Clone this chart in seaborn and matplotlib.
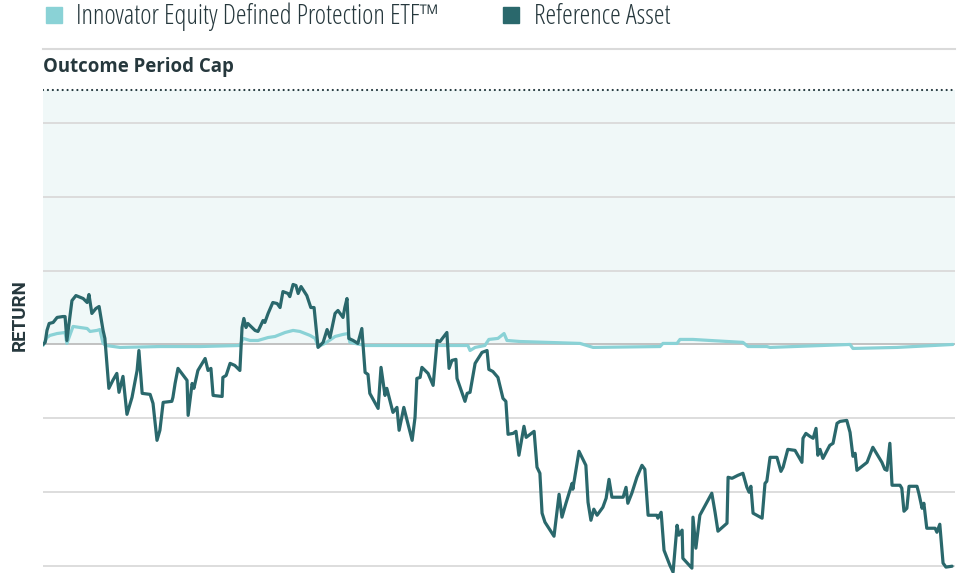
import numpy as np
import pandas as pd
import matplotlib.pyplot as plt
import seaborn as sns
from matplotlib.lines import Line2D

# trading day / return (%)
ref_day = [0, 0.6, 1.1, 1.7, 2.8, 3.9, 5.5, 6.1, 6.6, 8.0, 9.1, 11.1, 12.2, 12.7, 13.5, 14.6, 15.5, 16.6, 17.1,
           18.2, 19.3, 20.4, 21.0, 22.1, 23.2, 24.6, 26.0, 26.5, 27.4, 29.6, 30.4, 31.5, 32.3, 33.2, 35.6, 35.9,
           36.5, 37.3, 39.8, 40.1, 41.2, 41.7, 42.8, 44.8, 45.6, 46.4, 47.0, 49.5, 49.7, 50.6, 51.7, 53.0, 54.4,
           55.0, 55.5, 56.1, 56.6, 58.6, 59.4, 60.8, 61.3, 62.2, 63.5, 64.7, 65.5, 66.3, 67.7, 68.2, 69.1, 69.9,
           70.5, 71.3, 72.9, 74.0, 74.9, 76.0, 77.4, 78.5, 79.3, 80.7, 81.5, 82.9, 83.4, 84.0, 84.5, 85.7, 87.0,
           88.1, 89.0, 89.8, 90.3, 92.6, 93.4, 94.5, 95.0, 96.7, 97.8, 98.4, 99.7, 102.0, 102.8, 103.3, 104.2,
           104.7, 106.4, 107.8, 108.9, 109.7, 111.6, 112.2, 113.0, 114.1, 114.4, 116.6, 117.2, 118.0, 119.4,
           121.3, 122.7, 123.2, 124.3, 125.7, 127.1, 127.9, 128.5, 129.9, 130.7, 131.5, 132.9, 133.5, 135.7,
           136.5, 137.3, 137.9, 138.7, 141.2, 142.6, 143.4, 144.5, 146.2, 146.4, 148.1, 150.0, 150.6, 151.4,
           152.2, 153.1, 154.7, 155.6, 156.4, 157.2, 160.3, 161.1, 161.6, 162.7, 164.1, 165.5, 166.3, 167.2,
           169.6, 169.9, 170.8, 171.6, 173.2, 174.1, 175.2, 175.7, 176.6, 176.8, 179.3, 179.6, 180.4, 181.5,
           184.8, 185.7, 186.5, 189.0, 189.3, 190.4, 192.0, 193.4, 194.5, 195.1, 195.6, 196.2, 198.7, 199.5,
           200.0, 200.9, 202.8, 203.9, 204.5, 205.8, 207.8, 209.7, 210.0, 210.8, 211.9, 212.8, 213.6, 214.1,
           214.7, 215.5, 217.4, 218.3, 219.4, 220.2, 222.1, 223.0, 223.8, 224.4, 224.9, 227.7, 229.3, 231.8,
           232.6, 233.2, 234.0, 234.6, 236.8, 237.3, 237.9, 238.7, 239.3, 241.5, 242.0, 242.9, 243.4, 244.2,
           246.5, 247.0, 247.8, 248.7, 249.5, 251.2]
ref_ret = [0, 0.14, 0.95, 1.42, 1.49, 1.83, 1.89, 1.89, 0.27, 2.97, 3.31, 3.11, 2.84, 3.38, 2.10, 2.43, 2.57, 0.95,
           0.41, -2.97, -2.43, -1.96, -3.24, -2.16, -4.73, -3.58, -1.76, -0.41, -3.31, -3.38, -3.99, -6.49, -5.81,
           -3.92, -3.85, -3.58, -2.64, -1.62, -2.43, -4.80, -2.64, -2.97, -1.76, -0.95, -1.76, -1.62, -3.45,
           -3.52, -2.23, -2.10, -1.28, -1.42, -1.76, 1.15, 1.76, 1.15, 1.42, 0.95, 0.88, 1.62, 1.49, 2.10, 2.84,
           2.77, 2.50, 3.58, 3.45, 3.24, 4.06, 3.99, 3.45, 3.92, 3.31, 2.50, 2.50, -0.20, 0.14, 1.01, 0.47, 2.10,
           2.30, 1.83, 2.50, 3.11, 0.41, 0.27, 0.07, 1.08, -1.89, -2.03, -3.31, -4.33, -1.55, -3.45, -2.97, -4.60,
           -4.26, -5.81, -4.26, -6.49, -4.93, -2.30, -2.23, -1.55, -1.96, -2.77, 0.27, 0.20, 0.81, -1.62, -1.08,
           -1.01, -2.30, -3.85, -3.31, -3.24, -1.28, -0.54, -0.41, -1.69, -1.83, -2.23, -3.65, -3.85, -6.08,
           -6.02, -5.88, -7.50, -5.54, -6.29, -5.88, -8.31, -8.72, -11.42, -12.03, -12.98, -10.14, -11.69,
           -10.75, -9.40, -9.80, -7.23, -8.18, -10.68, -11.90, -11.15, -11.56, -11.02, -10.41, -9.13, -10.34,
           -10.34, -9.67, -10.75, -10.07, -8.99, -8.18, -8.45, -11.56, -11.56, -11.76, -11.36, -13.93, -14.94,
           -15.41, -12.24, -12.91, -12.57, -14.47, -15.14, -11.69, -13.79, -11.56, -10.07, -11.36, -12.64,
           -12.10, -8.99, -9.06, -8.86, -8.72, -9.67, -10.00, -9.60, -11.42, -11.76, -9.40, -9.26, -7.64, -7.64,
           -8.59, -8.31, -7.10, -7.17, -7.98, -6.35, -6.02, -6.22, -6.35, -5.68, -7.50, -7.10, -7.71, -6.83,
           -6.69, -5.34, -5.21, -5.14, -5.95, -7.57, -7.37, -8.52, -7.98, -6.96, -7.98, -8.45, -8.52, -6.69,
           -9.53, -9.53, -9.73, -11.29, -11.09, -9.60, -9.60, -10.07, -11.09, -10.75, -12.44, -12.44, -12.71,
           -12.17, -14.80, -15.07, -15.01]

etf_day = [0, 1.1, 1.9, 3.9, 6.1, 6.6, 8.3, 10.2, 12.2, 13.0, 14.9, 15.7, 16.6, 17.4, 21.3, 32.3, 43.4, 54.4,
           55.3, 57.2, 59.4, 62.2, 64.1, 66.9, 69.1, 71.0, 73.8, 75.2, 76.0, 77.9, 80.7, 82.9, 84.3, 84.8, 89.0,
           117.4, 118.0, 119.4, 122.1, 123.2, 125.7, 127.4, 128.2, 131.8, 148.4, 152.0, 170.5, 171.3, 175.2,
           176.0, 179.6, 184.3, 193.4, 194.8, 200.0, 200.9, 223.0, 223.8, 236.0, 251.4]
etf_ret = [-0.07, 0.47, 0.61, 0.74, 0.81, 0.07, 1.22, 1.15, 1.08, 0.88, 0.95, 1.01, 0.07, -0.07, -0.20, -0.14,
           -0.14, -0.07, 0.41, 0.27, 0.27, 0.47, 0.54, 0.81, 0.95, 0.88, 0.61, 0.41, -0.14, 0.07, 0.54, 0.68,
           0.74, 0.14, -0.07, -0.07, -0.41, -0.20, -0.07, 0.34, 0.41, 0.74, 0.27, 0.20, 0.07, -0.20, -0.14,
           0.07, 0.07, 0.34, 0.34, 0.27, 0.14, -0.14, -0.14, -0.20, 0.00, -0.27, -0.20, 0.00]

cap = 17.2
grid_levels = [-15, -10, -5, 5, 10, 15]

series_names = ["Innovator Equity Defined Protection ETF\u2122", "Reference Asset"]
series_colors = ["#8ad2d6", "#2a686c"]
text_color = "#26383d"

sns.set_theme(style="white")
plt.rcParams['font.family'] = ['Open Sans', 'DejaVu Sans']
plt.rcParams['font.stretch'] = 'condensed'

fig = plt.figure(figsize=(9.61, 5.73), dpi=100)
ax = fig.add_axes([43 / 961, 0, 912 / 961, 1 - 49 / 573])

ax.axhspan(0, cap, color="#f0f8f8", zorder=0, lw=0)
for g in grid_levels:
    ax.axhline(g, color="#dadada", lw=1.3, zorder=1)
ax.axhline(0, color="#bdbdbd", lw=1.3, zorder=1)
ax.axhline(cap, color="#22383d", lw=1.6, ls=(0, (0.01, 2.2)), dash_capstyle="round", zorder=2)

etf = pd.DataFrame({"day": etf_day, "ret": etf_ret})
ref = pd.DataFrame({"day": ref_day, "ret": ref_ret})
sns.lineplot(data=etf, x="day", y="ret", color=series_colors[0], lw=2.3, ax=ax, zorder=3)
sns.lineplot(data=ref, x="day", y="ret", color=series_colors[1], lw=2.3, ax=ax, zorder=4)

ax.set_xlim(0, 252)
ax.set_ylim(-15.47, 20)
ax.set_xticks([])
ax.set_yticks([])
ax.set_xlabel("")
ax.set_ylabel("")
for s in ["left", "right", "bottom"]:
    ax.spines[s].set_visible(False)
ax.spines["top"].set_color("#dadada")
ax.spines["top"].set_linewidth(1.5)

ax.text(0, 18.75, "Outcome Period Cap", fontsize=13.4, fontweight="bold", color=text_color,
        va="center", ha="left")
fig.text(20 / 961, 1 - 315 / 573, "RETURN", rotation=90, fontsize=13.5, fontweight="bold",
         family=["Roboto", "DejaVu Sans"], fontstretch="normal", color=text_color, va="center", ha="center")

handles = [Line2D([], [], marker="s", ls="", color=c, markersize=11.5) for c in series_colors]
fig.legend(handles, series_names, loc="center left", bbox_to_anchor=(40 / 961, 1 - 17 / 573),
           ncol=2, frameon=False, prop={"size": 19.5, "weight": "light", "stretch": "condensed"},
           handletextpad=0.34, columnspacing=2.15, handlelength=1.0, labelcolor=text_color,
           borderaxespad=0, borderpad=0)

fig.savefig("out.png", dpi=100)
